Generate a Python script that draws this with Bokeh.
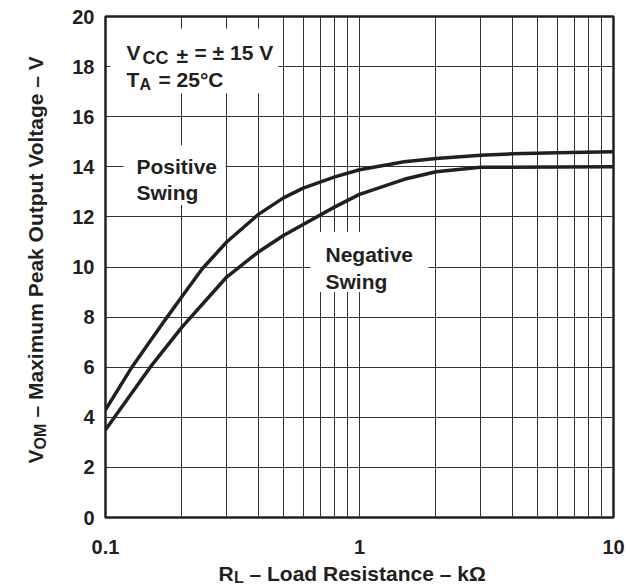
import math
from bokeh.plotting import figure
from bokeh.models import BoxAnnotation, FixedTicker, Range1d, Label
from bokeh.layouts import column, row
from bokeh.embed import file_html
from bokeh.resources import INLINE

# ---------------- data ----------------
pos_r = [0.1, 0.127, 0.172, 0.2, 0.24, 0.3, 0.4, 0.5, 0.6, 0.8, 1.0, 1.5, 2.0, 3.0, 4.0, 6.0, 10.0]
pos_v = [4.3, 6.0, 7.9, 8.82, 9.92, 11.0, 12.1, 12.75, 13.15, 13.6, 13.88, 14.2, 14.33, 14.46, 14.52, 14.56, 14.6]

neg_r = [0.1, 0.15, 0.2, 0.3, 0.4, 0.5, 0.6, 0.8, 1.0, 1.5, 2.0, 3.0, 10.0]
neg_v = [3.5, 6.0, 7.6, 9.6, 10.6, 11.25, 11.7, 12.4, 12.9, 13.5, 13.8, 13.98, 14.0]

x_ticks = [0.1, 1, 10]
x_tick_labels = {0.1: "0.1", 1: "1", 10: "10"}
y_ticks = list(range(0, 21, 2))
x_grid = [m * d for d in (0.1, 1.0) for m in range(1, 10)] + [10.0]

x_title = ["R", "L", "\u2013 Load Resistance \u2013 k\u03a9"]
y_title = ["V", "OM", "\u2013 Maximum Peak Output Voltage \u2013 V"]

INK = "#231f20"
FONT = "Liberation Sans"

# page geometry (pixels)
PAGE_W, PAGE_H = 627, 586
LEFT_W = 60          # strip holding the y-axis title
BOTTOM_H = 30        # strip holding the x-axis title
FRAME_L, FRAME_T, FRAME_R, FRAME_B = 105, 16, 613, 518


def no_align(f):
    try:
        f.frame_align = False
    except Exception:
        pass


# ---------------- main chart ----------------
MAIN_W, MAIN_H = PAGE_W - LEFT_W, PAGE_H - BOTTOM_H
p = figure(width=MAIN_W, height=MAIN_H, x_axis_type="log",
           x_range=(0.1, 10), y_range=(0, 20),
           output_backend="svg", toolbar_location=None,
           min_border_left=FRAME_L - LEFT_W, min_border_right=PAGE_W - FRAME_R,
           min_border_top=FRAME_T, min_border_bottom=MAIN_H - FRAME_B)
no_align(p)

p.background_fill_color = "white"
p.border_fill_color = "white"
p.outline_line_color = INK
p.outline_line_width = 2.5

p.xaxis.ticker = FixedTicker(ticks=x_ticks)
p.xaxis.major_label_overrides = x_tick_labels
p.yaxis.ticker = FixedTicker(ticks=y_ticks)

for ax in (p.xaxis[0], p.yaxis[0]):
    ax.axis_line_color = None
    ax.major_tick_line_color = None
    ax.minor_tick_line_color = None
    ax.major_label_text_font = FONT
    ax.major_label_text_font_style = "bold"
    ax.major_label_text_font_size = "20px"
    ax.major_label_text_color = INK
p.xaxis.major_label_standoff = 16
p.yaxis.major_label_standoff = 5

p.xgrid.ticker = FixedTicker(ticks=x_grid)
p.ygrid.ticker = FixedTicker(ticks=y_ticks)
for g in (p.xgrid[0], p.ygrid[0]):
    g.grid_line_color = "#333333"
    g.grid_line_width = 1
    g.grid_line_alpha = 1.0


def dx(px):
    return 10 ** (-1 + (px - FRAME_L) / 254.0)


def dy(py):
    return (FRAME_B - py) / 25.1


def box(x0, x1, y0, y1):
    p.add_layout(BoxAnnotation(left=dx(x0), right=dx(x1), top=dy(y0), bottom=dy(y1),
                               fill_color="white", fill_alpha=1.0, line_color=None))


def lab(fig, s, sx, sy, size=21, angle=0.0):
    # sx, sy: frame-relative screen units (y measured upward from the frame bottom)
    fig.add_layout(Label(x=sx, y=sy, x_units="screen", y_units="screen",
                         text=s, text_font=FONT, text_font_style="bold",
                         text_font_size=f"{size}px", text_color=INK,
                         text_align="left", text_baseline="alphabetic", angle=angle))


def ptxt(s, px, py, size=21):
    lab(p, s, px - FRAME_L, FRAME_B - py, size)


# white boxes behind the annotations
box(110, 278, 28, 93)
box(123, 225, 145, 205)
box(310, 428, 232, 292)

# ---------------- curves ----------------
p.line(pos_r, pos_v, line_color=INK, line_width=3.5)
p.line(neg_r, neg_v, line_color=INK, line_width=3.5)

# ---------------- annotations ----------------
ptxt("V", 126, 53)
ptxt("CC", 142, 58, size=18)
ptxt("\u00b1", 176, 56)
ptxt("= \u00b1 15 V", 194, 53)
ptxt("T", 126, 80)
ptxt("A", 139, 85, size=16)
ptxt("= 25\u00b0C", 158, 80)

ptxt("Positive", 136, 167)
ptxt("Swing", 136, 193)
ptxt("Negative", 325, 255)
ptxt("Swing", 325, 282)


def strip(w, h):
    f = figure(width=w, height=h, x_range=Range1d(0, w), y_range=Range1d(0, h),
               output_backend="svg", toolbar_location=None,
               x_axis_location=None, y_axis_location=None,
               min_border=0, min_border_left=0, min_border_right=0,
               min_border_top=0, min_border_bottom=0)
    no_align(f)
    f.title = None
    f.outline_line_color = None
    f.grid.visible = False
    f.background_fill_color = "white"
    f.border_fill_color = "white"
    return f


# ---------------- y-axis title strip (page x 0..LEFT_W, y 0..MAIN_H) ----------------
left = strip(LEFT_W, MAIN_H)
half_pi = math.pi / 2
lab(left, y_title[0], 35, MAIN_H - 463, angle=half_pi)
lab(left, y_title[1], 40, MAIN_H - 449, size=16, angle=half_pi)
lab(left, y_title[2], 35, MAIN_H - 417, angle=half_pi)

# ---------------- x-axis title strip (page y MAIN_H..PAGE_H) ----------------
bottom = strip(PAGE_W, BOTTOM_H)
lab(bottom, x_title[0], 218, PAGE_H - 573)
lab(bottom, x_title[1], 233.5, PAGE_H - 577, size=16)
lab(bottom, x_title[2], 249, PAGE_H - 573)

layout = column(row(left, p, spacing=0), bottom, spacing=0)

open("out.html", "w").write(file_html(layout, INLINE))
